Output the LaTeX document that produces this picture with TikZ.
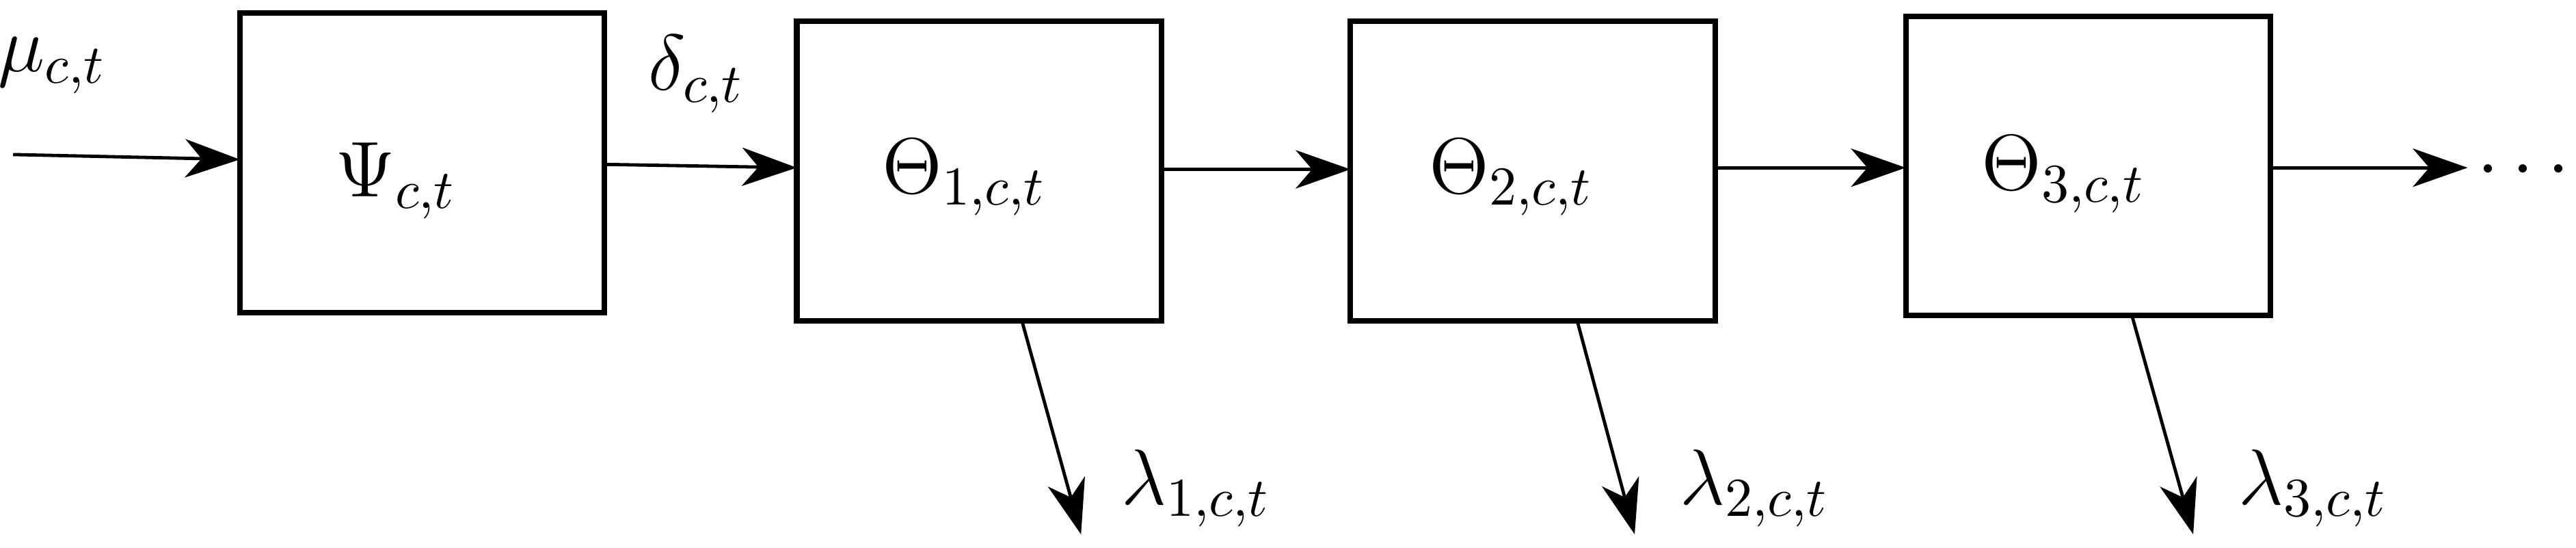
\documentclass[tikz,border=0pt]{standalone}
\usetikzlibrary{arrows.meta}
\begin{document}
\begin{tikzpicture}[x=0.3pt,y=-0.3pt,
  blk/.style={draw,line width=1pt,minimum width=66.6pt,minimum height=54.6pt,inner sep=0pt},
  arr/.style={line width=0.6pt,-{Stealth[length=10pt,width=7pt,inset=3pt]}},
  lbl/.style={font=\Large,inner sep=0pt}]
\useasboundingbox (0,0) rectangle (1568,333);
\node[blk] (psi) at (257,99) {};
\node[blk] (t1) at (596,104) {};
\node[blk] (t2) at (933,104) {};
\node[blk] (t3) at (1271,101) {};
\node[lbl] at (241,110) {$\Psi_{c,t}$};
\node[lbl] at (587,108) {$\Theta_{1,c,t}$};
\node[lbl] at (920,108) {$\Theta_{2,c,t}$};
\node[lbl] at (1256,106) {$\Theta_{3,c,t}$};
\coordinate (in) at (8,94);
\coordinate (out) at (1502,102);
\coordinate (d1) at (658,325);
\coordinate (d2) at (995,325);
\coordinate (d3) at (1335,325);
\draw[arr] (in) -- (146,97);
\draw[arr] (369,100) -- (485,102);
\draw[arr] (707,103) -- (822,103);
\draw[arr] (1045,102) -- (1160,102);
\draw[arr] (1383,102) -- (out);
\draw[arr] (622,195) -- (d1);
\draw[arr] (960,195) -- (d2);
\draw[arr] (1298,193) -- (d3);
\node[lbl] at (1536,104) {$\cdots$};
\node[lbl] at (32,40) {$\mu_{c,t}$};
\node[lbl] at (424,45) {$\delta_{c,t}$};
\node[lbl] at (728,297) {$\lambda_{1,c,t}$};
\node[lbl] at (1068,297) {$\lambda_{2,c,t}$};
\node[lbl] at (1408,297) {$\lambda_{3,c,t}$};
\end{tikzpicture}
\end{document}
